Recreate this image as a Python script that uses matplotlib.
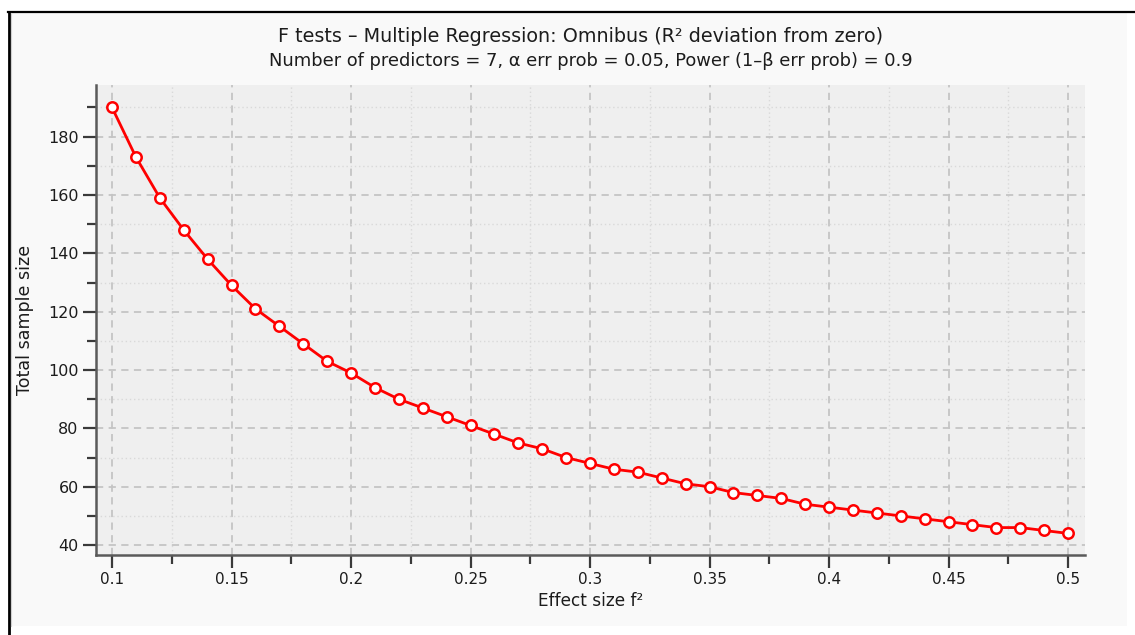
import numpy as np
import matplotlib
matplotlib.use("Agg")
import matplotlib.pyplot as plt
from matplotlib.patches import Rectangle
from matplotlib.lines import Line2D
from matplotlib.ticker import MultipleLocator, FormatStrFormatter

# effect size f^2 and required total sample size
effect_size = [0.10, 0.11, 0.12, 0.13, 0.14, 0.15, 0.16, 0.17, 0.18, 0.19,
               0.20, 0.21, 0.22, 0.23, 0.24, 0.25, 0.26, 0.27, 0.28, 0.29,
               0.30, 0.31, 0.32, 0.33, 0.34, 0.35, 0.36, 0.37, 0.38, 0.39,
               0.40, 0.41, 0.42, 0.43, 0.44, 0.45, 0.46, 0.47, 0.48, 0.49, 0.50]
sample_size = [190, 173, 159, 148, 138, 129, 121, 115, 109, 103,
               99, 94, 90, 87, 84, 81, 78, 75, 73, 70,
               68, 66, 65, 63, 61, 60, 58, 57, 56, 54,
               53, 52, 51, 50, 49, 48, 47, 46, 46, 45, 44]

title_1 = "F tests \u2013 Multiple Regression: Omnibus (R\u00b2 deviation from zero)"
title_2 = "Number of predictors = 7, \u03b1 err prob = 0.05, Power (1\u2013\u03b2 err prob) = 0.9"
x_label = "Effect size f\u00b2"
y_label = "Total sample size"

plt.rcParams['font.family'] = ['DejaVu Sans']
txt = '#1c1c1c'

W, H = 1135, 635
fig = plt.figure(figsize=(W / 100, H / 100), dpi=100, facecolor='white')

# light panel with a black frame on top and left
fig.add_artist(Rectangle((10 / W, (H - 626) / H), 1117 / W, 614 / H,
                         transform=fig.transFigure, facecolor='#f9f9f9',
                         edgecolor='none', zorder=0))
fig.add_artist(Line2D([8 / W, 1], [(H - 11.5) / H] * 2, transform=fig.transFigure,
                      color='black', lw=1.6))
fig.add_artist(Line2D([9 / W] * 2, [0, (H - 11.5) / H], transform=fig.transFigure,
                      color='black', lw=2.0))
fig.add_artist(Line2D([11 / W] * 2, [(H - 626) / H, (H - 13) / H], transform=fig.transFigure,
                      color='#d0d0d0', lw=0.8))

ax = fig.add_axes([96 / W, (H - 555) / H, 989 / W, 470 / H])
ax.set_facecolor('#efefef')

ax.plot(effect_size, sample_size, color='#ff0000', lw=2.0, marker='o',
        markersize=7.5, markerfacecolor='white', markeredgecolor='#ff0000',
        markeredgewidth=1.8, zorder=3)

ax.set_xlim(0.0933, 0.5071)
ax.set_ylim(36.6, 197.7)

ax.xaxis.set_major_locator(MultipleLocator(0.05))
ax.xaxis.set_minor_locator(MultipleLocator(0.025))
ax.yaxis.set_major_locator(MultipleLocator(20))
ax.yaxis.set_minor_locator(MultipleLocator(10))
ax.xaxis.set_major_formatter(plt.FuncFormatter(lambda v, p: ('%.2f' % v).rstrip('0')))
ax.yaxis.set_major_formatter(FormatStrFormatter('%d'))

ax.grid(which='major', color='#c4c4c4', linestyle=(0, (4, 3)), lw=1.3)
ax.grid(which='minor', color='#d9d9d9', linestyle=(0, (1, 2)), lw=1.0)
ax.set_axisbelow(True)

for s in ['top', 'right']:
    ax.spines[s].set_visible(False)
for s in ['left', 'bottom']:
    ax.spines[s].set_color('#5a5a5a')
    ax.spines[s].set_linewidth(1.8)

ax.tick_params(which='major', direction='out', length=9.5, width=1.6,
               color='#3a3a3a', labelcolor=txt)
ax.tick_params(axis='x', which='major', labelsize=11, pad=3)
ax.tick_params(axis='y', which='major', labelsize=11.5, pad=3)
ax.tick_params(which='minor', direction='out', length=6.5, width=1.6, color='#3a3a3a')

ax.set_xlabel(x_label, fontsize=12.2, color=txt, labelpad=3)
ax.set_ylabel(y_label, fontsize=12.6, color=txt, labelpad=10)

cx = (96 + 1085) / 2 / W
fig.text(cx - 10 / W, (H - 36) / H, title_1, ha='center', va='center', fontsize=13.8, color=txt)
fig.text(cx, (H - 61) / H, title_2, ha='center', va='center', fontsize=12.9, color=txt)

fig.savefig('out.png', dpi=100, facecolor='white')
